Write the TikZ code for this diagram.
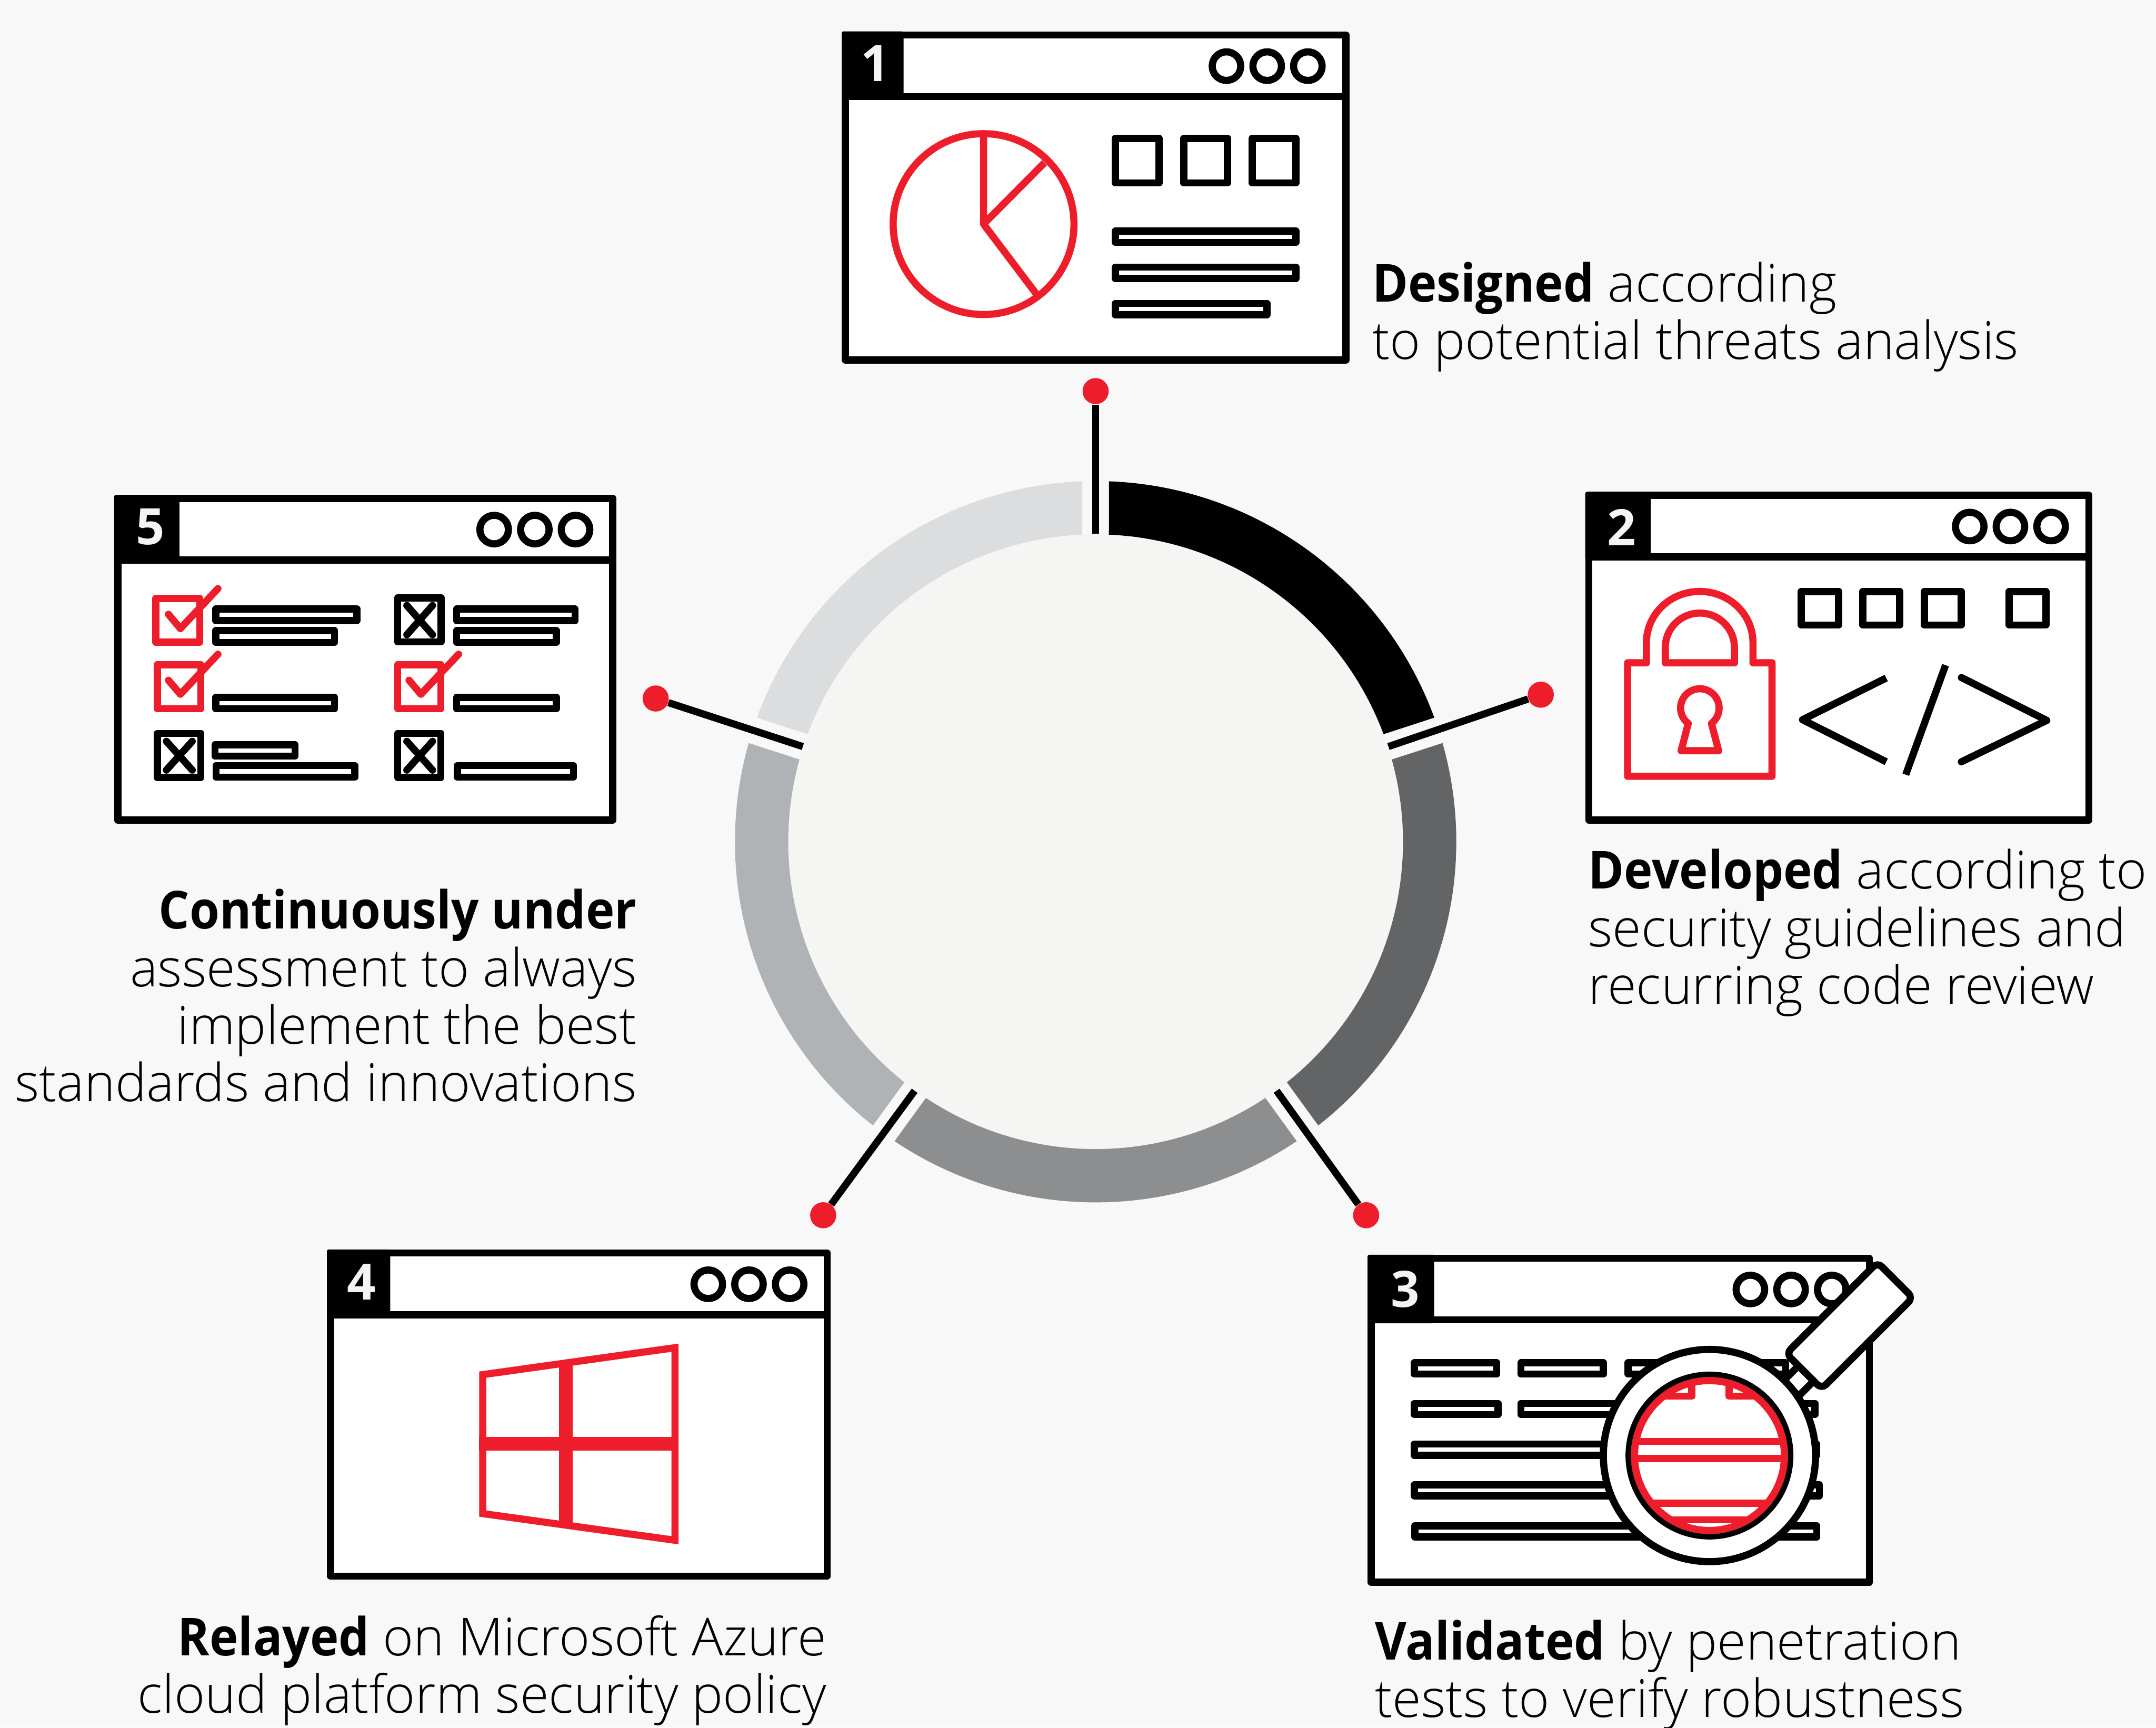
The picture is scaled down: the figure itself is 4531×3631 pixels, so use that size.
\documentclass[tikz,border=0pt]{standalone}
\usepackage{fontspec}
\setmainfont{Open Sans Light}[BoldFont={Open Sans Bold},BoldFeatures={FakeStretch=0.925}]
\newfontfamily\numfont{Open Sans Bold}
\usetikzlibrary{calc}
\definecolor{abbred}{HTML}{ED1D2B}
\definecolor{bgc}{HTML}{F8F8F8}
\definecolor{diskc}{HTML}{F5F5F3}
\definecolor{segb}{HTML}{636466}
\definecolor{segc}{HTML}{8C8E90}
\definecolor{segd}{HTML}{B0B3B5}
\definecolor{sege}{HTML}{DCDDDF}
\definecolor{numc}{HTML}{F4F4F2}
\tikzset{
  blk/.style={draw=black,line width=4.27pt,line join=round},
  redl/.style={draw=abbred,line width=4.27pt,line join=round},
  txt/.style={inner sep=0pt,outer sep=0pt,font=\fontsize{31.3}{34.4}\selectfont,text=black},
  numl/.style={inner sep=0pt,outer sep=0pt,font=\numfont\fontsize{30}{34}\selectfont,text=numc},
  reddot/.style={circle,fill=abbred,inner sep=0pt,minimum size=15.6pt},
  spoke/.style={draw=black,line width=4.27pt},
}
% filled ring segment, angles on the screen clockwise from east
\newcommand\segm[3]{\fill[#1] plot[domain={#2+2.12}:{#3-2.12},samples=70] ({2302.5+758*cos(\x)},{1769+758*sin(\x)})
  -- plot[domain={#3-2.48}:{#2+2.48},samples=70] ({2302.5+646*cos(\x)},{1769+646*sin(\x)}) -- cycle;}
% outlined box given its outer extent
\newcommand\obox[4]{\draw[blk] ({#1+7.5},{#2+7.5}) rectangle ({#3-7.5},{#4-7.5});}
\newcommand\rbox[4]{\draw[redl] ({#1+7.5},{#2+7.5}) rectangle ({#3-7.5},{#4-7.5});}
% window: x0,y0,x1,y1, right of number box, middle dot x
\newcommand\win[6]{%
  \draw[blk,fill=white] ({#1+7.5},{#2+7.5}) rectangle ({#3-7.5},{#4-7.5});
  \fill[black,rounded corners=1pt] (#1,#2) rectangle (#5,{#2+144});
  \draw[blk] (#1,{#2+137}) -- (#3,{#2+137});
  \foreach \dx in {-85.5,0,85.5}{\draw[blk] ({#6+\dx},{#2+73}) circle[radius=30];}
}
\begin{document}
\begin{tikzpicture}[x=0.01cm,y=-0.01cm]
\fill[bgc] (0,0) rectangle (4531,3631);
\path[use as bounding box] (0,0) rectangle (4531,3631);
% ring
\fill[diskc] (2302.5,1769) circle[radius=646];
\segm{black}{-90}{-18}
\segm{segb}{-18}{54}
\segm{segc}{54}{126}
\segm{segd}{126}{198}
\segm{sege}{198}{270}
% spokes
\coordinate (in1) at (2302.5,1122);
\coordinate (in2) at (2917.8,1569);
\coordinate (in3) at (2682.8,2292.4);
\coordinate (in4) at (1922.2,2292.4);
\coordinate (in5) at (1687.2,1569);
\node[reddot] (d1) at (2302.5,822) {};
\node[reddot] (d2) at (3238,1460) {};
\node[reddot] (d3) at (2871,2554) {};
\node[reddot] (d4) at (1730,2554) {};
\node[reddot] (d5) at (1378,1468) {};
\draw[spoke] (d1) -- (in1);
\draw[spoke] (d2) -- (in2);
\draw[spoke] (d3) -- (in3);
\draw[spoke] (d4) -- (in4);
\draw[spoke] (d5) -- (in5);
% window 1
\win{1769}{66}{2836}{764}{1899}{2663}
\node[numl] (n1) at (1839,133) {1};
\draw[redl] (2067,471) circle[radius=190];
\draw[redl] (2067,288) -- (2067,471) -- (2195,342);
\draw[redl] (2067,471) -- (2178,618);
\obox{2336.5}{283.5}{2443.6}{392}
\obox{2480}{283.5}{2587}{392}
\obox{2624}{283.5}{2731}{392}
\obox{2336.5}{478}{2731}{517}
\obox{2336.5}{554}{2731}{593}
\obox{2336.5}{630}{2670}{669}
% window 2
\win{3331.5}{1033.6}{4397.6}{1731}{3469}{4225}
\node[numl] (n2) at (3408,1108) {2};
\draw[redl] (3420.5,1631.5) -- (3420.5,1393) -- (3460,1393) -- (3460,1351)
  .. controls (3460,1291) and (3510,1243) .. (3572,1243)
  .. controls (3634,1243) and (3684,1291) .. (3684,1351)
  -- (3684,1393) -- (3724,1393) -- (3724,1631.5) -- cycle;
\draw[redl] (3499.7,1393) -- (3499.7,1361)
  .. controls (3499.7,1321) and (3532,1288.5) .. (3572.3,1288.5)
  .. controls (3612.5,1288.5) and (3645,1321) .. (3645,1361)
  -- (3645,1393) -- cycle;
\draw[redl] plot[domain=127:413,samples=50] ({3572.3+40.5*cos(\x)},{1488+40.5*sin(\x)})
  -- (3611.8,1577.7) -- (3533,1577.7) -- cycle;
\obox{3778}{1235.6}{3871.5}{1321}
\obox{3907.5}{1235.6}{4000}{1321}
\obox{4036.6}{1235.6}{4129}{1321}
\obox{4215}{1235.6}{4307}{1321}
\draw[blk] (3964,1425) -- (3788,1512.6) -- (3964,1601);
\draw[blk,line cap=round] (4122,1424) -- (4301.5,1514) -- (4122,1601);
\draw[blk] (4088.7,1398) -- (4005,1628);
% window 3
\win{2874}{2637}{3936}{3333}{3014}{3764}
\node[numl] (n3) at (2953,2709) {3};
\obox{2964.8}{2856.6}{3153}{2895.4}
\obox{3189}{2856.6}{3377}{2895.4}
\obox{3414}{2856.6}{3760}{2895.4}
\obox{2964.8}{2942}{3156}{2980.6}
\obox{3189}{2942}{3821.7}{2980.6}
\obox{2964.8}{3027.5}{3825.5}{3066}
\obox{2964.8}{3113}{3831}{3151.5}
\obox{2966}{3199.5}{3825.5}{3237.8}
\draw[blk,fill=white] (3748,2902) -- (3780,2934) -- (3829,2885) -- (3797,2853) -- cycle;
\draw[blk,fill=white] (3592.5,3059) circle[radius=223];
\begin{scope}
  \clip (3592.5,3059) circle[radius=160];
  \fill[white] (3592.5,3059) circle[radius=160];
  \draw[redl] (3300,2800) rectangle (3555.4,2934.4);
  \draw[redl] (3634,2800) rectangle (3900,2934.4);
  \draw[redl] (3400,3029.5) -- (3800,3029.5);
  \draw[redl] (3400,3065) -- (3800,3065);
  \draw[redl] (3400,3159) -- (3800,3159);
  \draw[redl] (3400,3194) -- (3800,3194);
\end{scope}
\draw[redl] (3592.5,3059) circle[radius=157.5];
\draw[black,line width=3.24pt] (3592.5,3059) circle[radius=170.7];
\begin{scope}[shift={(3887,2786)},rotate=45]
  \draw[blk,fill=white,rounded corners=3.6pt] (-135.5,-52.5) rectangle (135.5,52.5);
\end{scope}
% window 4
\win{687}{2626}{1746}{3320}{820}{1574}
\node[numl] (n4) at (760,2694) {4};
\draw[abbred,line width=4.27pt,miter limit=10] (1014.5,2889) -- (1418.5,2832.4) -- (1418.5,3237) -- (1014.5,3181) -- cycle;
\fill[abbred] (1175,2866) rectangle (1204,3207);
\fill[abbred] (1007,3019.5) rectangle (1426,3049);
% window 5
\win{240}{1040}{1295}{1731}{377}{1124}
\node[numl] (n5) at (316,1107) {5};
\rbox{320}{1250}{427.4}{1357}
\draw[redl,line cap=round] (354,1291) -- (379,1321) -- (458,1237);
\obox{828}{1249}{934.4}{1356.5}
\draw[blk,line cap=round] (855,1272.5) -- (909,1334);
\draw[blk,line cap=round] (909,1272.5) -- (855,1334);
\rbox{323}{1389.5}{429.6}{1497}
\draw[redl,line cap=round] (354,1429.6) -- (379,1459) -- (458,1375);
\rbox{828}{1389.5}{934}{1497}
\draw[redl,line cap=round] (859.6,1429.6) -- (884.5,1459) -- (963.8,1375);
\obox{323}{1534}{429.6}{1641.5}
\draw[blk,line cap=round] (349.7,1558) -- (404,1618.4);
\draw[blk,line cap=round] (404,1558) -- (349.7,1618.4);
\obox{828}{1534}{934}{1641.5}
\draw[blk,line cap=round] (855,1558) -- (909,1618.4);
\draw[blk,line cap=round] (909,1558) -- (855,1618.4);
\obox{445.8}{1272.5}{757.6}{1311.6}
\obox{445.8}{1318}{710.6}{1357.4}
\obox{952}{1272.5}{1216}{1311.6}
\obox{952}{1318}{1176.5}{1357.4}
\obox{445.8}{1458}{710.6}{1497}
\obox{952}{1458}{1176.5}{1497}
\obox{444.3}{1558}{627.7}{1596.7}
\obox{446.5}{1601.4}{753}{1641}
\obox{953.5}{1601.4}{1212.5}{1641}
% texts (anchored on the baseline of the last line)
\node[txt,anchor=base west,align=left] (t1) at (2884,755) {\textbf{Designed} according\\to potential threats analysis};
\node[txt,anchor=base west,align=left] (t2) at (3338,2110) {\textbf{Developed} according to\\security guidelines and\\recurring code review};
\node[txt,anchor=base west,align=left] (t3) at (2890,3609) {\textbf{Validated} by penetration\\tests to verify robustness};
\node[txt,anchor=base east,align=right] (t4) at (1737,3600) {\textbf{Relayed} on Microsoft Azure\\cloud platform security policy};
\node[txt,anchor=base east,align=right] (t5) at (1338,2315) {\textbf{Continuously under}\\assessment to always\\implement the best\\standards and innovations};
\end{tikzpicture}
\end{document}
